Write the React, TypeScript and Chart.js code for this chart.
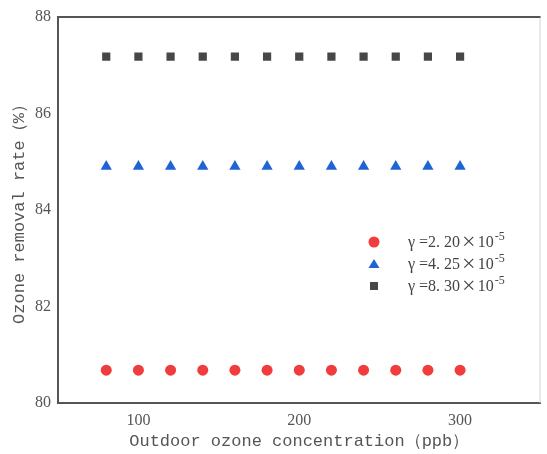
import React, { useEffect, useRef } from "react";
import { Chart, registerables } from "chart.js";

Chart.register(...registerables);

const concentrations = [80, 100, 120, 140, 160, 180, 200, 220, 240, 260, 280, 300];
const seriesLow = [80.68, 80.68, 80.68, 80.68, 80.68, 80.68, 80.68, 80.68, 80.68, 80.68, 80.68, 80.68];
const seriesMid = [84.9, 84.9, 84.9, 84.9, 84.9, 84.9, 84.9, 84.9, 84.9, 84.9, 84.9, 84.9];
const seriesHigh = [87.18, 87.18, 87.18, 87.18, 87.18, 87.18, 87.18, 87.18, 87.18, 87.18, 87.18, 87.18];
const legendCoef = ["γ =2. 20", "γ =4. 25", "γ =8. 30"];
const legendTimes = "×";
const legendBase = "10";
const legendSup = "-5";
const xTicks = [100, 200, 300];

const frame = {
  id: "frame",
  beforeDatasetsDraw(chart: any) {
    const { ctx, chartArea: a } = chart;
    ctx.save();
    ctx.strokeStyle = "#d4d4d4";
    ctx.lineWidth = 1;
    ctx.beginPath();
    ctx.moveTo(a.right - 0.5, a.top);
    ctx.lineTo(a.right - 0.5, a.bottom);
    ctx.stroke();
    ctx.strokeStyle = "#555555";
    ctx.lineWidth = 2;
    ctx.beginPath();
    ctx.moveTo(a.left, a.top);
    ctx.lineTo(a.right, a.top);
    ctx.stroke();
    ctx.restore();
  },
};

const legendPlugin = {
  id: "customLegend",
  afterDraw(chart: any) {
    const { ctx } = chart;
    const x0 = 374;
    const y0 = 242;
    const dy = 22;
    chart.data.datasets.forEach((ds: any, i: number) => {
      const y = y0 + i * dy;
      ctx.save();
      ctx.fillStyle = ds.backgroundColor;
      ctx.beginPath();
      if (ds.pointStyle === "circle") {
        ctx.arc(x0, y, 5.5, 0, Math.PI * 2);
      } else if (ds.pointStyle === "triangle") {
        ctx.moveTo(x0, y - 5);
        ctx.lineTo(x0 + 5.5, y + 4);
        ctx.lineTo(x0 - 5.5, y + 4);
        ctx.closePath();
      } else {
        ctx.rect(x0 - 4, y - 4, 8, 8);
      }
      ctx.fill();
      ctx.fillStyle = "#444444";
      ctx.textBaseline = "middle";
      ctx.textAlign = "left";
      let x = 408;
      ctx.font = "16px 'Liberation Serif'";
      ctx.fillText(legendCoef[i], x, y + 1);
      x += ctx.measureText(legendCoef[i]).width + 2;
      ctx.font = "24px 'Liberation Serif'";
      ctx.fillText(legendTimes, x, y + 1);
      x += ctx.measureText(legendTimes).width + 2;
      ctx.font = "16px 'Liberation Serif'";
      ctx.fillText(legendBase, x, y + 1);
      x += ctx.measureText(legendBase).width + 1;
      ctx.font = "12px 'Liberation Serif'";
      ctx.fillText(legendSup, x, y - 5);
      ctx.restore();
    });
  },
};

export default function App() {
  const ref = useRef<HTMLCanvasElement>(null);
  useEffect(() => {
    document.body.style.margin = "0";
    const mk = (vals: number[]) => vals.map((v, i) => ({ x: concentrations[i], y: v }));
    const chart = new Chart(ref.current!, {
      type: "scatter",
      data: {
        datasets: [
          {
            label: legendCoef[0],
            data: mk(seriesLow),
            pointStyle: "circle",
            pointRadius: 5.5,
            backgroundColor: "#f03c3c",
            borderWidth: 0,
          },
          {
            label: legendCoef[1],
            data: mk(seriesMid),
            pointStyle: "triangle",
            pointRadius: 6.5,
            backgroundColor: "#1f63d6",
            borderWidth: 0,
          },
          {
            label: legendCoef[2],
            data: mk(seriesHigh),
            pointStyle: "rect",
            pointRadius: 5.8,
            backgroundColor: "#474747",
            borderWidth: 0,
          },
        ],
      },
      options: {
        animation: false,
        responsive: false,
        layout: { padding: { top: 17, right: 1, left: 0, bottom: 0 } },
        plugins: { legend: { display: false }, tooltip: { enabled: false } },
        scales: {
          x: {
            type: "linear",
            min: 50,
            max: 350,
            grid: { display: false, drawTicks: false, tickLength: 0 },
            border: { display: true, color: "#555555", width: 2 },
            afterBuildTicks: (s: any) => {
              s.ticks = xTicks.map((v) => ({ value: v }));
            },
            afterFit: (s: any) => {
              s.height = 51;
            },
            ticks: {
              color: "#555555",
              font: { family: "'Liberation Serif'", size: 16 },
              padding: 8,
            },
            title: {
              display: true,
              text: "Outdoor ozone concentration（ppb）",
              color: "#555555",
              font: { family: "'Liberation Mono'", size: 17 },
              padding: { top: 0, bottom: 2 },
            },
          },
          y: {
            min: 80,
            max: 88,
            grid: { display: false, drawTicks: false, tickLength: 0 },
            border: { display: true, color: "#555555", width: 2 },
            afterFit: (s: any) => {
              s.width = 58;
            },
            ticks: {
              stepSize: 2,
              color: "#555555",
              font: { family: "'Liberation Serif'", size: 16 },
              padding: 7,
            },
            title: {
              display: true,
              text: "Ozone removal rate（%）",
              color: "#555555",
              font: { family: "'Liberation Mono'", size: 17 },
              padding: { top: 9, bottom: 0 },
            },
          },
        },
      },
      plugins: [frame, legendPlugin],
    });
    return () => chart.destroy();
  }, []);
  return (
    <div style={{ position: "fixed", left: 0, top: 0, width: 547, height: 454, background: "#fff" }}>
      <canvas ref={ref} width={547} height={454} />
    </div>
  );
}
